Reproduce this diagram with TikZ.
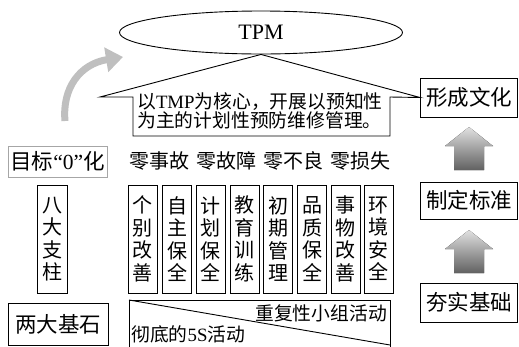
\documentclass[tikz,border=0pt]{standalone}
\usepackage{fontspec}
\setmainfont{Noto Sans CJK SC}
\newfontfamily\lat{Liberation Serif}
\usetikzlibrary{shapes.geometric,arrows.meta}
\begin{document}
\begin{tikzpicture}[x=1pt,y=-1pt,
  box/.style={draw,line width=0.9pt,inner sep=0pt},
  pillar/.style={box,minimum width=29pt,minimum height=108pt,align=center,font=\fontsize{20pt}{22.5pt}\selectfont},
  rbox/.style={box,minimum width=97pt,minimum height=38pt,font=\fontsize{21.5pt}{24pt}\selectfont},
  lbox/.style={box,minimum width=99pt,font=\fontsize{21.5pt}{24pt}\selectfont},
  plain/.style={inner sep=0pt},
  uparrow/.style={top color=black!12,bottom color=black!62,draw=none},
  bigarrow/.style={line width=7pt,draw=black!25,-{Triangle[length=17pt,width=24pt]}}
]
\useasboundingbox (0,0) rectangle (519,346);

% TPM ellipse
\node[ellipse,draw,line width=0.9pt,minimum width=283pt,minimum height=43pt,inner sep=0pt,
      font=\fontsize{22pt}{24pt}\selectfont\lat] (tpm) at (261,32.5) {TPM};

% right column
\node[rbox,minimum height=39pt] (culture) at (469,97.5) {形成文化};
\node[rbox,minimum height=37pt] (standard) at (469,200.5) {制定标准};
\node[rbox,minimum height=39pt] (basis) at (469,302.5) {夯实基础};

% callout
\coordinate (cl) at (100,97);
\coordinate (cr) at (390,97);
\coordinate (cbr) at (390,136);
\coordinate (cbl) at (133,136);
\coordinate (ctl) at (133,97);
\draw[line width=0.9pt,line join=miter] (cl) -- (tpm.south) -- (culture.west) -- (cr) -- (cbr) -- (cbl) -- (ctl) -- cycle;
\node[plain,anchor=west,align=left,font=\fontsize{18.8pt}{19pt}\selectfont] (ctext) at (137,110.5)
  {以{\lat TMP}为核心，开展以预知性\\为主的计划性预防维修管理。};

% curved gray arrow
\coordinate (ga) at (65,121);
\coordinate (gb) at (123,57);
\draw[bigarrow] (ga) .. controls (62,88) and (80,64) .. (gb);

% left column
\node[lbox,draw=black!35,minimum height=31pt] (goal) at (57.5,161.5) {目标{\lat “0”}化};
\node[pillar,minimum width=30pt] (eight) at (52,239) {八\\大\\支\\柱};
\node[lbox,minimum width=100pt,minimum height=42pt] (two) at (58,324) {两大基石};

% zero line
\node[plain,anchor=west,font=\fontsize{20pt}{22pt}\selectfont] (zero) at (129,161)
  {零事故\hspace{7pt}零故障\hspace{7pt}零不良\hspace{7pt}零损失};

% eight pillars
\node[pillar] (p1) at (142.5,239) {个\\别\\改\\善};
\node[pillar] (p2) at (177,239) {自\\主\\保\\全};
\node[pillar] (p3) at (210.5,239) {计\\划\\保\\全};
\node[pillar] (p4) at (244.5,239) {教\\育\\训\\练};
\node[pillar] (p5) at (278,239) {初\\期\\管\\理};
\node[pillar] (p6) at (312,239) {品\\质\\保\\全};
\node[pillar] (p7) at (345.5,239) {事\\物\\改\\善};
\node[pillar] (p8) at (378.5,239) {环\\境\\安\\全};

% base
\node[box,anchor=north west,minimum width=261pt,minimum height=52pt] (base) at (129,300) {};
\coordinate (bd) at (390,345);
\draw[line width=0.9pt] (base.north west) -- (bd);
\node[plain,anchor=east,font=\fontsize{18.8pt}{20pt}\selectfont] (rep) at (387,313) {重复性小组活动};
\node[plain,anchor=west,font=\fontsize{18.8pt}{20pt}\selectfont] (fives) at (131,334.5) {彻底的{\lat 5S}活动};

% gradient up arrows
\fill[uparrow] (469,127) -- (493,146) -- (484,146) -- (484,170) -- (454,170) -- (454,146) -- (445,146) -- cycle;
\fill[uparrow] (469,230) -- (493,249) -- (484,249) -- (484,273) -- (454,273) -- (454,249) -- (445,249) -- cycle;
\end{tikzpicture}
\end{document}
